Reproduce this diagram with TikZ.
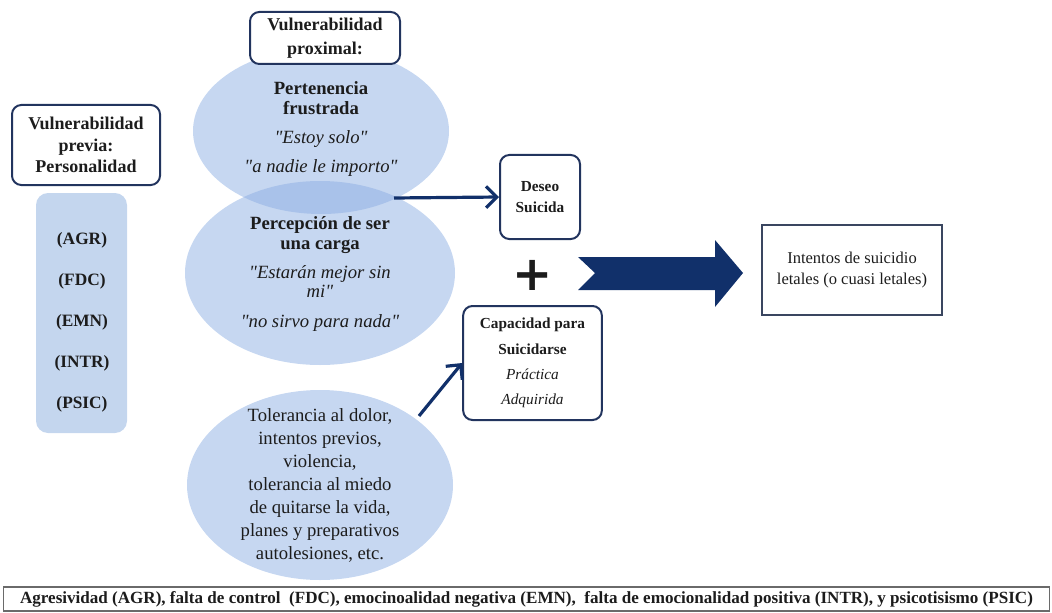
\documentclass[tikz,border=0pt]{standalone}
\usepackage{fontspec}
\setmainfont{Liberation Serif}[Ligatures=TeXOff]
\newfontfamily\plusfont{DejaVu Sans}
\usetikzlibrary{shapes.geometric,arrows.meta}
\definecolor{boxline}{HTML}{22345E}
\definecolor{arrownavy}{HTML}{11306A}
\definecolor{ellblue}{HTML}{C6D7F1}
\definecolor{ellmix}{HTML}{A9C2EA}
\definecolor{traitblue}{HTML}{C4D6EE}
\definecolor{inkdark}{HTML}{1C1C1C}
\definecolor{framegray}{HTML}{3A4660}
\definecolor{noteline}{HTML}{6A6A6A}
\newcommand{\dq}{\char"22\relax}

\begin{document}
\begin{tikzpicture}[x=0.75pt, y=-0.75pt, >={Straight Barb[length=8pt,width=16pt]},
                    every node/.style={inkdark, align=center, inner sep=0pt},
                    rbox/.style={draw=boxline, line width=1.5pt, fill=white, rounded corners=7pt},
                    cloud/.style={ellipse, font=\fontsize{14}{15}\selectfont},
                    link/.style={arrownavy, line width=2.4pt, ->}]

  \useasboundingbox (0,0) rectangle (1052,613);

  %% óvalos de vulnerabilidad y su cruce
  \fill[ellblue] (321,131) ellipse [x radius=96pt, y radius=62.25pt];
  \fill[ellblue] (320,273) ellipse [x radius=101.25pt, y radius=69pt];
  \fill[ellblue] (320,485) ellipse [x radius=99.75pt, y radius=71.25pt];
  \begin{scope}
    \clip (321,131) ellipse [x radius=96pt, y radius=62.25pt];
    \fill[ellmix] (320,273) ellipse [x radius=101.25pt, y radius=69pt];
  \end{scope}

  \node[cloud] (e1) at (321,129) {\textbf{Pertenencia}\\ \textbf{frustrada}\\[7pt]
    \textit{\dq Estoy solo\dq}\\[7pt] \textit{\dq a nadie le importo\dq}};
  \node[cloud] (e2) at (320,274) {\textbf{Percepción de ser}\\ \textbf{una carga}\\[7pt]
    \textit{\dq Estarán mejor sin}\\[-1pt] \textit{mi\dq}\\[8pt] \textit{\dq no sirvo para nada\dq}};
  \node[cloud, font=\fontsize{14}{17.25}\selectfont] (e3) at (320,485) {Tolerancia al dolor,\\
    intentos previos,\\ violencia,\\ tolerancia al miedo\\ de quitarse la vida,\\
    planes y preparativos\\ autolesiones, etc.};

  %% títulos
  \node[rbox, minimum width=112.5pt, minimum height=39pt,
        font=\fontsize{13.5}{18}\selectfont\bfseries] (proximal) at (325,38) {Vulnerabilidad\\ proximal:};
  \node[rbox, minimum width=111pt, minimum height=60pt,
        font=\fontsize{13.5}{16}\selectfont\bfseries] (previa) at (86,145) {Vulnerabilidad\\ previa:\\ Personalidad};

  %% rasgos de personalidad
  \node[fill=traitblue, rounded corners=9pt, minimum width=68.25pt, minimum height=180pt] (rasgos) at (81.5,313) {};
  \foreach \rasgo [count=\i] in {AGR,FDC,EMN,INTR,PSIC}
    \node[font=\fontsize{13}{15}\selectfont\bfseries] (r\i) at (82,{199+41*\i}) {(\rasgo)};

  %% deseo y capacidad
  \node[rbox, minimum width=60pt, minimum height=63pt,
        font=\fontsize{11.5}{16}\selectfont\bfseries] (deseo) at (540,197) {Deseo\\ Suicida};
  \node[font=\plusfont\bfseries\fontsize{36}{36}\selectfont] (mas) at (533,275) {+};
  \node[rbox, minimum width=104pt, minimum height=85.5pt,
        font=\fontsize{11.5}{19}\selectfont] (capacidad) at (532.5,363) {\textbf{Capacidad para}\\
    \textbf{Suicidarse}\\ \textit{Práctica}\\ \textit{Adquirida}};

  \coordinate (a1) at (394,198);
  \draw[link] (a1) -- (deseo.west);
  \coordinate (a2) at (419,416);
  \draw[link] (a2) -- (capacidad.west);

  %% flecha grande hacia el resultado
  \fill[arrownavy] (578,257) -- (715,257) -- (715,240) -- (743,273) -- (715,307)
    -- (715,290) -- (578,290) -- (595,273) -- cycle;

  \node[draw=framegray, line width=1.2pt, minimum width=135pt, minimum height=67.5pt,
        font=\fontsize{12.4}{16}\selectfont] (intentos) at (852,270) {Intentos de suicidio\\ letales (o cuasi letales)};

  %% nota al pie
  \node[draw=noteline, line width=0.8pt, minimum width=785pt, minimum height=18pt,
        font=\fontsize{12.8}{14}\selectfont\bfseries] (nota) at (526.5,599)
    {Agresividad (AGR), falta de control\ \ (FDC), emocinoalidad negativa (EMN),\ \ falta de emocionalidad positiva (INTR), y psicotisismo (PSIC)};

\end{tikzpicture}
\end{document}
